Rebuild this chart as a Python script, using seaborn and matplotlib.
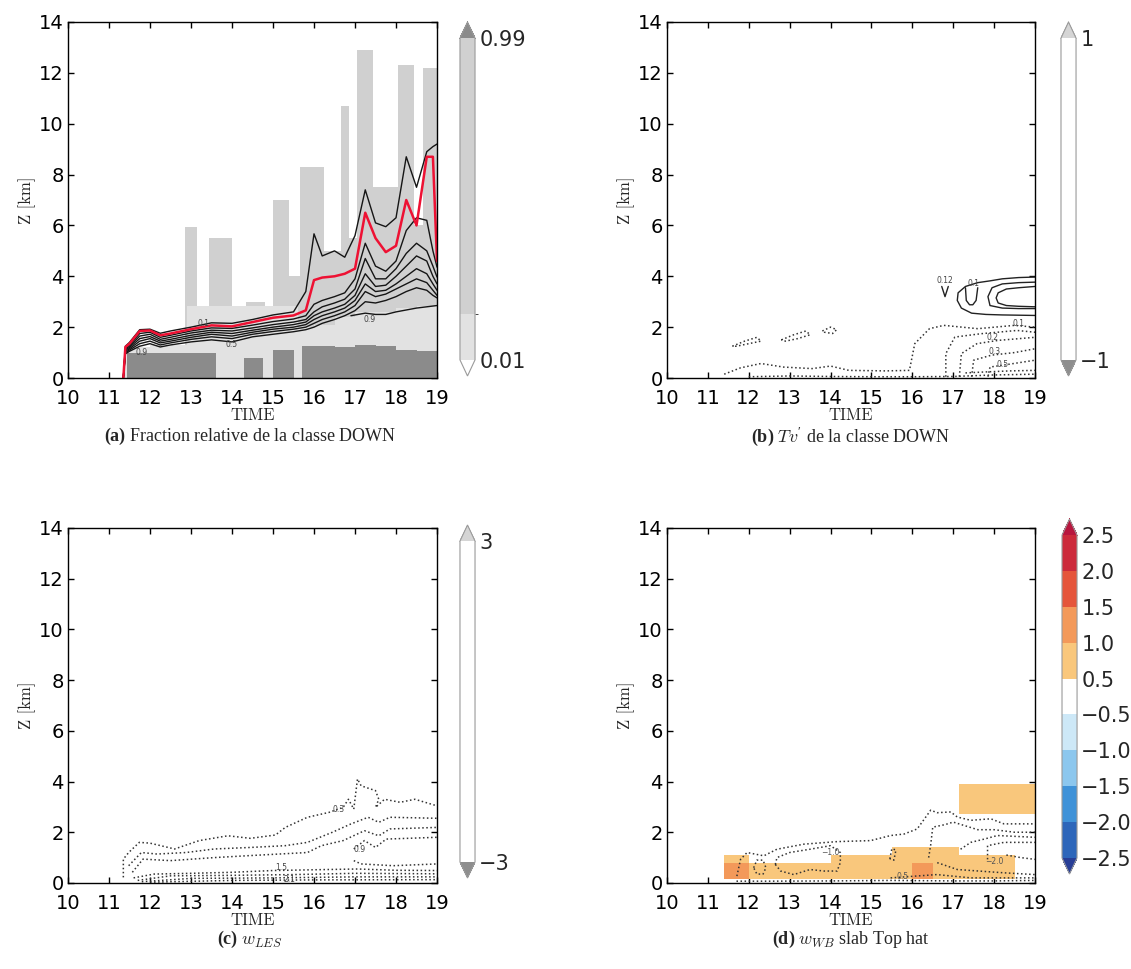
import numpy as np
import matplotlib
matplotlib.use("Agg")
import matplotlib.pyplot as plt
from matplotlib.colors import ListedColormap, BoundaryNorm
from matplotlib.cm import ScalarMappable
import seaborn as sns

# 1. DATOS (tiempo en h, altura en km)
hours = [10, 11, 12, 13, 14, 15, 16, 17, 18, 19]
heights = [0, 2, 4, 6, 8, 10, 12, 14]

# (a) fraccion de la clase DOWN: rellenos grises como perfiles escalonados
frac_dark_t = [11.45, 13.6, 14.3, 14.75, 15.0, 15.5, 15.7, 16.5, 17.0, 17.5, 18.0, 18.5, 19.0]
frac_dark_top = [1.0, 0.0, 0.8, 0.0, 1.1, 0.0, 1.25, 1.2, 1.3, 1.25, 1.1, 1.05, 1.05]
frac_light_t = [11.4, 12.0, 12.9, 15.6, 16.0, 16.5, 17.0, 17.5, 18.0, 18.5, 19.0]
frac_light_top = [1.2, 1.3, 2.85, 2.0, 2.1, 2.4, 2.6, 2.6, 2.75, 2.85, 2.85]
frac_col_t = [12.85, 13.15, 13.45, 14.0, 14.35, 14.8, 15.0, 15.4, 15.65, 16.25,
              16.65, 16.85, 17.05, 17.45, 18.05, 18.45, 18.65, 19.0]
frac_col_top = [5.95, 0.0, 5.5, 0.0, 3.0, 0.0, 7.0, 4.0, 8.3, 5.0,
                10.7, 5.5, 12.9, 7.5, 12.3, 6.0, 12.2, 12.2]
frac_levels = [0.01, 0.15, 0.99]
frac_light_value, frac_col_value, frac_dark_value = 0.1, 0.5, 1.0

# (a) lignes de contour (temps communs)
cont_t = [11.35, 11.4, 11.5, 11.75, 12.0, 12.25, 12.5, 13.0, 13.5, 14.0, 14.5, 15.0, 15.5, 15.8,
          16.0, 16.2, 16.5, 16.75, 17.0, 17.25, 17.5, 17.75, 18.0, 18.25, 18.5, 18.75, 18.9, 19.0]
cont_outer = [0, 1.25, 1.4, 1.9, 1.92, 1.76, 1.85, 2.0, 2.17, 2.15, 2.3, 2.48, 2.6, 3.4,
              5.67, 4.8, 5.0, 4.75, 5.6, 7.4, 6.1, 5.95, 6.3, 8.7, 7.5, 8.9, 9.1, 9.2]
cont_red = [0, 1.22, 1.35, 1.85, 1.87, 1.68, 1.75, 1.92, 2.07, 2.03, 2.2, 2.37, 2.46, 2.66,
            3.85, 3.95, 4.0, 4.1, 4.3, 6.5, 5.5, 4.95, 5.2, 7.0, 6.0, 8.7, 8.7, 4.6]
cont_b1 = [0, 1.2, 1.3, 1.75, 1.8, 1.6, 1.68, 1.85, 1.97, 1.95, 2.08, 2.22, 2.32, 2.45,
           2.9, 3.05, 3.2, 3.35, 3.9, 5.3, 4.4, 4.2, 4.6, 5.8, 6.3, 6.2, 5.0, 4.36]
cont_b2 = [0, 1.15, 1.25, 1.65, 1.72, 1.52, 1.6, 1.77, 1.88, 1.85, 1.97, 2.1, 2.2, 2.3,
           2.6, 2.8, 2.95, 3.1, 3.5, 4.7, 3.9, 3.9, 4.3, 4.9, 5.3, 5.0, 4.4, 3.97]
cont_b3 = [0, 1.1, 1.2, 1.55, 1.63, 1.45, 1.52, 1.68, 1.8, 1.75, 1.88, 2.0, 2.1, 2.2,
           2.45, 2.6, 2.75, 2.9, 3.25, 4.1, 3.6, 3.65, 4.0, 4.4, 4.8, 4.6, 4.0, 3.7]
cont_b4 = [0, 1.05, 1.15, 1.45, 1.55, 1.38, 1.45, 1.6, 1.72, 1.65, 1.8, 1.92, 2.0, 2.1,
           2.3, 2.45, 2.6, 2.75, 3.05, 3.7, 3.4, 3.45, 3.7, 4.0, 4.3, 4.1, 3.7, 3.45]
cont_b5 = [0, 1.0, 1.1, 1.35, 1.45, 1.3, 1.38, 1.52, 1.62, 1.55, 1.72, 1.83, 1.92, 2.0,
           2.15, 2.3, 2.45, 2.6, 2.85, 3.4, 3.2, 3.3, 3.5, 3.7, 3.9, 3.75, 3.45, 3.25]
cont_b6 = [0, 0.95, 1.05, 1.25, 1.35, 1.22, 1.3, 1.42, 1.5, 1.42, 1.62, 1.72, 1.82, 1.9,
           2.0, 2.15, 2.3, 2.45, 2.65, 3.0, 2.95, 3.05, 3.2, 3.4, 3.55, 3.45, 3.25, 3.15]
cont_b7_t = [16.9, 17.25, 17.5, 17.75, 18.0, 18.5, 19.0]
cont_b7 = [2.45, 2.55, 2.5, 2.5, 2.6, 2.75, 2.85]

# (b) Tv' : contours positifs (traits pleins)
tv_pos = [
    ([19.0, 18.6, 18.2, 17.9, 17.6, 17.3, 17.12, 17.1, 17.2, 17.45, 17.8, 18.2, 18.6, 19.0],
     [3.97, 3.95, 3.9, 3.82, 3.75, 3.6, 3.35, 3.05, 2.75, 2.55, 2.5, 2.48, 2.47, 2.46]),
    ([19.0, 18.6, 18.2, 17.95, 17.85, 17.9, 18.2, 18.6, 19.0],
     [3.77, 3.75, 3.7, 3.55, 3.2, 2.85, 2.75, 2.73, 2.73]),
    ([19.0, 18.6, 18.3, 18.1, 18.05, 18.1, 18.3, 18.6, 19.0],
     [3.6, 3.55, 3.5, 3.35, 3.15, 2.95, 2.85, 2.82, 2.8]),
    ([17.3, 17.32, 17.4, 17.48, 17.56, 17.6], [3.55, 3.05, 2.88, 2.88, 3.05, 3.55]),
    ([16.72, 16.8, 16.88], [3.6, 3.2, 3.6]),
]
# (b) Tv' : contours negatifs (pointilles)
tv_neg = [
    ([11.4, 11.8, 12.3, 12.85, 13.55, 14.0, 14.45, 15.35, 15.93, 16.06, 16.42, 16.77, 17.6, 18.5, 19.0],
     [0.15, 0.4, 0.57, 0.43, 0.37, 0.47, 0.3, 0.28, 0.3, 1.35, 1.94, 2.07, 1.94, 2.07, 2.0]),
    ([16.82, 16.82, 17.04, 17.67, 18.56, 19.0], [0.05, 0.96, 1.61, 1.74, 1.87, 1.8]),
    ([17.15, 17.2, 17.58, 18.1, 19.0], [0.05, 0.96, 1.35, 1.48, 1.6]),
    ([17.45, 17.5, 17.94, 18.5, 19.0], [0.05, 0.7, 0.9, 1.0, 1.15]),
    ([17.85, 17.9, 18.4, 19.0], [0.05, 0.43, 0.55, 0.7]),
    ([12.0, 13.0, 14.0, 15.0, 16.0, 17.0, 18.0, 19.0], [0.05, 0.08, 0.06, 0.05, 0.05, 0.06, 0.12, 0.15]),
    ([17.3, 17.8, 18.4, 19.0], [0.2, 0.24, 0.28, 0.3]),
    ([11.6, 11.9, 12.2, 12.3, 12.0, 11.7, 11.6], [1.25, 1.45, 1.6, 1.45, 1.35, 1.25, 1.25]),
    ([12.8, 13.1, 13.4, 13.5, 13.2, 12.9, 12.8], [1.5, 1.7, 1.85, 1.7, 1.55, 1.45, 1.5]),
    ([13.8, 14.0, 14.15, 14.05, 13.85, 13.8], [1.85, 2.0, 1.9, 1.75, 1.8, 1.85]),
]

# (c) w_LES : contours (pointilles)
wles_lines = [
    ([11.35, 11.35, 11.48, 11.74, 12.0, 12.6, 13.2, 13.9, 14.45, 15.06, 15.3, 15.84, 16.36, 16.71,
      16.84, 16.97, 17.06, 17.15, 17.5, 17.58, 17.5, 17.72, 18.1, 18.46, 19.0],
     [0.22, 0.94, 1.2, 1.6, 1.57, 1.34, 1.67, 1.86, 1.76, 1.89, 2.19, 2.59, 2.78, 2.98,
      3.3, 2.91, 4.1, 3.83, 3.64, 3.3, 2.98, 3.3, 3.18, 3.3, 3.04]),
    ([11.48, 11.79, 12.17, 12.88, 13.57, 14.45, 15.3, 15.84, 16.45, 16.89, 17.32, 17.58, 17.85, 19.0],
     [0.68, 1.2, 1.14, 1.2, 1.34, 1.4, 1.47, 1.6, 2.0, 2.32, 2.59, 2.39, 2.59, 2.55]),
    ([11.57, 11.83, 12.5, 13.57, 14.45, 15.84, 16.18, 16.71, 17.23, 17.58, 17.85, 19.0],
     [0.42, 0.94, 0.88, 1.0, 1.08, 1.2, 1.47, 1.67, 2.06, 1.86, 2.13, 2.19]),
    ([16.97, 17.23, 17.5, 17.76, 19.0], [1.34, 1.67, 1.4, 1.73, 1.8]),
    ([16.97, 17.15, 17.93, 19.0], [0.88, 0.75, 0.68, 0.75]),
    ([11.6, 12.1, 13.0, 14.0, 15.0, 16.0, 17.06, 18.0, 19.0], [0.2, 0.35, 0.38, 0.42, 0.49, 0.52, 0.55, 0.5, 0.49]),
    ([11.7, 12.5, 14.0, 15.5, 17.0, 19.0], [0.1, 0.28, 0.3, 0.33, 0.38, 0.36]),
    ([11.8, 13.0, 15.0, 17.0, 19.0], [0.05, 0.18, 0.2, 0.24, 0.24]),
    ([12.0, 14.0, 16.0, 19.0], [0.03, 0.1, 0.12, 0.13]),
]

# (d) w_WB slab Top hat : champ colore par cellules + contours
wb_t_edges = [11.4, 12.0, 12.5, 13.0, 13.5, 14.0, 14.5, 15.0, 15.5, 16.0, 16.5, 17.15, 17.5, 18.0, 18.5, 19.0]
wb_z_edges = [0.15, 0.5, 0.8, 1.1, 1.4, 2.7, 3.9]
nan = np.nan
wb_values = [
    [1.2, 0.8, 0.7, 0.7, 0.8, 0.8, 0.7, 0.7, 0.8, 1.1, 0.9, 0.8, 0.8, 0.7, nan],
    [1.1, 0.7, 0.7, 0.8, 0.9, 0.9, 0.7, 0.8, 0.9, 1.2, 0.9, 0.9, 0.9, 0.7, nan],
    [0.6, nan, nan, nan, nan, 0.6, 0.6, 0.7, 0.8, 0.9, 0.8, 0.8, 0.7, 0.6, nan],
    [nan, nan, nan, nan, nan, nan, nan, nan, 0.6, 0.7, 0.6, nan, nan, nan, nan],
    [nan] * 15,
    [nan] * 11 + [0.8, 0.8, 0.8, 0.8],
]
wb_levels = [-2.5, -2.0, -1.5, -1.0, -0.5, 0.5, 1.0, 1.5, 2.0, 2.5]
wb_colors = ["#2d66ba", "#3f92d8", "#8cc7ee", "#cde8f7", "#ffffff",
             "#f9c77c", "#f3995a", "#e5553b", "#cc2a3b"]
wb_lines = [
    ([11.71, 11.8, 11.96, 12.37, 12.69, 13.35, 14.16, 14.98, 15.47, 15.8, 16.12, 16.45, 16.61,
      16.94, 17.1, 17.43, 17.92, 18.24, 19.0],
     [0.27, 0.93, 1.2, 1.07, 1.33, 1.53, 1.63, 1.67, 1.87, 1.93, 2.13, 2.87, 2.77,
      2.8, 2.6, 2.47, 2.53, 2.33, 2.33]),
    ([12.65, 12.69, 13.0, 13.5, 14.0, 14.24, 14.24, 14.16, 13.84, 13.5, 13.1, 12.78, 12.65],
     [0.73, 1.0, 1.2, 1.33, 1.47, 1.2, 0.8, 0.47, 0.47, 0.53, 0.33, 0.47, 0.73]),
    ([12.12, 12.2, 12.35, 12.42, 12.35, 12.2, 12.12], [0.6, 0.9, 0.9, 0.6, 0.35, 0.35, 0.6]),
    ([15.45, 15.5, 15.6, 15.55, 15.45], [0.95, 1.35, 1.3, 0.9, 0.95]),
    ([16.4, 16.45, 16.5, 16.8, 17.0, 17.2, 17.6, 18.0, 18.5, 19.0],
     [1.0, 1.5, 2.2, 2.3, 2.4, 2.3, 2.1, 2.1, 2.0, 2.0]),
    ([17.18, 17.43, 17.76, 18.08, 19.0], [1.33, 1.6, 1.73, 1.87, 1.8]),
    ([17.84, 17.84, 18.24, 19.0], [0.93, 1.47, 1.6, 1.6]),
    ([16.61, 17.1, 18.24, 19.0], [0.8, 0.53, 0.4, 0.33]),
    ([18.3, 18.65, 19.0], [1.1, 1.0, 0.93]),
    ([11.7, 12.5, 14.0, 15.5, 17.0, 18.0, 19.0], [0.07, 0.07, 0.08, 0.1, 0.08, 0.08, 0.1]),
    ([15.47, 16.6, 17.43, 19.0], [0.2, 0.33, 0.2, 0.2]),
]

# 2. ESTILO
sns.set_style("ticks")
plt.rcParams["font.family"] = ["DejaVu Sans"]
plt.rcParams["mathtext.fontset"] = "custom"
plt.rcParams["mathtext.rm"] = "Liberation Serif"
plt.rcParams["mathtext.bf"] = "Liberation Serif:bold"
plt.rcParams["mathtext.it"] = "cmmi10"
plt.rcParams["axes.unicode_minus"] = True

fig = plt.figure(figsize=(11.31, 9.69), dpi=100)


def contour_line(ax, t, z, color="black", lw=1.0, ls="-"):
    sns.lineplot(x=t, y=z, sort=False, estimator=None, color=color,
                 linewidth=lw, linestyle=ls, ax=ax)


def style_axes(ax):
    ax.set_xlim(10, 19)
    ax.set_ylim(0, 14)
    ax.set_xticks(hours)
    ax.set_yticks(heights)
    ax.tick_params(direction="in", top=True, right=True, length=4, width=1,
                   labelsize=14, colors="black")
    ax.tick_params(axis="x", pad=8)
    ax.tick_params(axis="y", pad=3)
    for s in ax.spines.values():
        s.set_linewidth(1.0)
        s.set_color("black")
    ax.set_xlabel("TIME", family="cmr10", fontsize=12, labelpad=0)
    ax.set_ylabel("Z [km]", family="cmr10", fontsize=12, labelpad=2)


def add_colorbar(mappable, rect, ticks, labels, spacing="uniform"):
    # rect couvre aussi les triangles d'extension
    cax = fig.add_axes(rect)
    cb = fig.colorbar(mappable, cax=cax, extend="both", ticks=ticks, spacing=spacing)
    cb.set_ticklabels(labels)
    cb.outline.set_edgecolor("#9a9a9a")
    cb.outline.set_linewidth(0.8)
    cax.tick_params(length=0, labelsize=15, pad=3)
    return cb


# 3. PANEL (a)
ax_a = fig.add_axes([0.0601, 0.6099, 0.3263, 0.3674])
frac_cmap = ListedColormap(["#e2e2e2", "#d0d0d0"]).with_extremes(under="white", over="#8b8b8b")
frac_norm = BoundaryNorm(frac_levels, 2)
ax_a.fill_between(frac_col_t, 0, frac_col_top, step="post", lw=0,
                  color=frac_cmap(frac_norm(frac_col_value)))
ax_a.fill_between(frac_light_t, 0, frac_light_top, step="post", lw=0,
                  color=frac_cmap(frac_norm(frac_light_value)))
ax_a.fill_between(frac_dark_t, 0, frac_dark_top, step="post", lw=0,
                  color=frac_cmap(frac_norm(frac_dark_value)))
for z in [cont_b6, cont_b5, cont_b4, cont_b3, cont_b2, cont_b1, cont_outer]:
    contour_line(ax_a, cont_t, z, color="#151515", lw=1.0)
contour_line(ax_a, cont_b7_t, cont_b7, color="#151515", lw=1.0)
contour_line(ax_a, cont_t, cont_red, color="#ee1133", lw=1.8)
for x, y, s in [(17.35, 2.3, "0.9"), (14.0, 1.3, "0.5"), (13.3, 2.15, "0.1"), (11.8, 1.0, "0.9")]:
    ax_a.text(x, y, s, fontsize=5.5, color="#444444", ha="center", va="center")
style_axes(ax_a)
add_colorbar(ScalarMappable(norm=frac_norm, cmap=frac_cmap),
             [0.4067, 0.6120, 0.0133, 0.3653], [0.01, 0.99], ["0.01", "0.99"],
             spacing="proportional")

# 4. PANEL (b)
ax_b = fig.add_axes([0.5897, 0.6099, 0.3254, 0.3674])
for t, z in tv_pos:
    contour_line(ax_b, t, z, color="#222222", lw=1.0)
for t, z in tv_neg:
    contour_line(ax_b, t, z, color="#333333", lw=1.1, ls=":")
for x, y, s in [(16.8, 3.85, "0.12"), (17.5, 3.7, "0.1"), (17.95, 1.6, "0.2"),
                (18.6, 2.15, "0.1"), (18.0, 1.05, "0.3"), (18.2, 0.55, "0.5")]:
    ax_b.text(x, y, s, fontsize=5.5, color="#444444", ha="center", va="center")
style_axes(ax_b)
tv_cmap = ListedColormap(["white"]).with_extremes(under="#8e8e8e", over="#d5d5d5")
add_colorbar(ScalarMappable(norm=BoundaryNorm([-1, 1], 1), cmap=tv_cmap),
             [0.9381, 0.6120, 0.0133, 0.3653], [-1, 1], ["\u22121", "1"])

# 5. PANEL (c)
ax_c = fig.add_axes([0.0601, 0.0888, 0.3263, 0.3664])
for t, z in wles_lines:
    contour_line(ax_c, t, z, color="#333333", lw=1.1, ls=":")
for x, y, s in [(16.6, 2.9, "0.3"), (17.1, 1.3, "0.9"), (15.2, 0.6, "1.5"), (15.4, 0.15, "2.1")]:
    ax_c.text(x, y, s, fontsize=5.5, color="#444444", ha="center", va="center")
style_axes(ax_c)
add_colorbar(ScalarMappable(norm=BoundaryNorm([-3, 3], 1), cmap=tv_cmap),
             [0.4067, 0.0939, 0.0133, 0.3643], [-3, 3], ["\u22123", "3"])

# 6. PANEL (d)
ax_d = fig.add_axes([0.5897, 0.0888, 0.3254, 0.3664])
wb_cmap = ListedColormap(wb_colors).with_extremes(under="#283e96", over="#b8163e")
wb_norm = BoundaryNorm(wb_levels, len(wb_colors))
mesh = ax_d.pcolormesh(wb_t_edges, wb_z_edges, np.ma.masked_invalid(wb_values),
                       cmap=wb_cmap, norm=wb_norm)
for t, z in wb_lines:
    contour_line(ax_d, t, z, color="#333333", lw=1.1, ls=":")
for x, y, s in [(14.0, 1.2, "\u22121.0"), (15.75, 0.25, "0.5"), (18.0, 0.85, "\u22122.0")]:
    ax_d.text(x, y, s, fontsize=5.5, color="#555555", ha="center", va="center")
style_axes(ax_d)
add_colorbar(mesh, [0.9390, 0.0980, 0.0133, 0.3664], wb_levels,
             [f"{v:.1f}".replace("-", "\u2212") for v in wb_levels])

# 7. LEYENDAS DE LOS PANELES
cap_kw = dict(ha="center", va="center", family="Liberation Serif", fontsize=13)
fig.text(0.221, 0.550, r"$\mathbf{(a)}$ Fraction relative de la classe DOWN", **cap_kw)
fig.text(0.7524, 0.550, r"$\mathbf{(b)}$ $Tv'$ de la classe DOWN", **cap_kw)
fig.text(0.221, 0.030, r"$\mathbf{(c)}$ $w_{LES}$", **cap_kw)
fig.text(0.7524, 0.030, r"$\mathbf{(d)}$ $w_{WB}$ slab Top hat", **cap_kw)

fig.savefig("out.png", dpi=100)
